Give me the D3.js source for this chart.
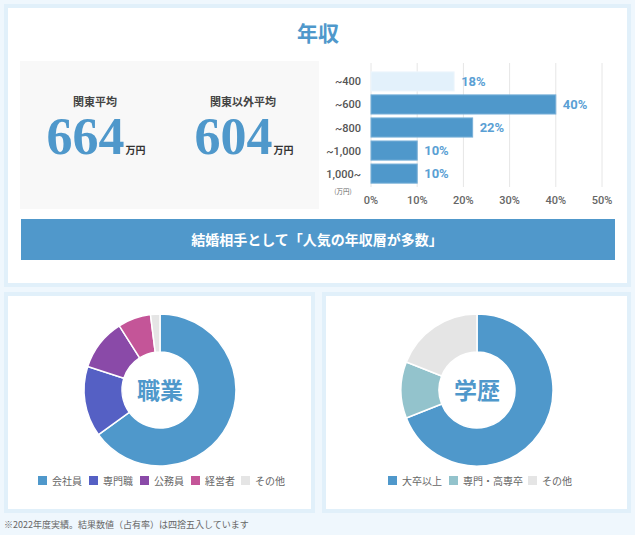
<!DOCTYPE html>
<html><head><meta charset="utf-8">
<script src="https://cdn.jsdelivr.net/npm/d3@7"></script>
<style>
html,body{margin:0;padding:0;background:#eff7fd;}
svg{display:block;font-family:"Noto Sans CJK JP","Noto Sans",sans-serif;}
</style></head>
<body><svg id="c" width="635" height="535"></svg>
<script>
// ---- data ----
const incomeCategories = ["~400", "~600", "~800", "~1,000", "1,000~"];
const incomeShares = [18, 40, 22, 10, 10];
const incomeTicks = [0, 10, 20, 30, 40, 50];
const avgLabels = ["関東平均", "関東以外平均"];
const avgValues = [664, 604];
const jobCategories = ["会社員", "専門職", "公務員", "経営者", "その他"];
const jobShares = [65, 15, 11, 7, 2];
const eduCategories = ["大卒以上", "専門・高専卒", "その他"];
const eduShares = [69, 12, 19];

const blue = "#4f98cb";
const svg = d3.select("#c");

// panels
function panel(x, y, w, h) {
  svg.append("rect").attr("x", x + 2).attr("y", y + 2).attr("width", w - 4).attr("height", h - 4)
    .attr("fill", "#fff").attr("stroke", "#e1f0fa").attr("stroke-width", 4);
}
panel(4, 4, 627, 283);
panel(4, 292, 311, 221);
panel(322, 292, 309, 221);

// title
svg.append("text").attr("x", 318).attr("y", 41).attr("text-anchor", "middle")
  .attr("font-size", 21).attr("font-weight", 700).attr("fill", blue).text("年収");

// averages box
svg.append("rect").attr("x", 20).attr("y", 61).attr("width", 299).attr("height", 148).attr("fill", "#f8f8f8");
const avgX = d3.scaleOrdinal().domain(avgLabels).range([95, 243]);
avgLabels.forEach((lab, i) => {
  const cx = avgX(lab);
  svg.append("text").attr("x", cx).attr("y", 106).attr("text-anchor", "middle")
    .attr("font-size", 11).attr("font-weight", 700).attr("fill", "#444").text(lab);
  const g = svg.append("text").attr("x", cx + 1).attr("y", 154).attr("text-anchor", "middle");
  g.append("tspan").attr("font-family", "'Liberation Serif',serif").attr("font-size", 52)
    .attr("font-weight", 700).attr("fill", blue).text(avgValues[i]);
  g.append("tspan").attr("font-size", 10).attr("font-weight", 700).attr("fill", "#333").attr("dx", 1).text("万円");
});

// bar chart
const x = d3.scaleLinear().domain([0, 50]).range([371, 602]);
const y = d3.scaleBand().domain(incomeCategories).range([70, 185]).paddingInner(0.17).paddingOuter(0.08);
svg.append("g").selectAll("line").data(incomeTicks).join("line")
  .attr("x1", d => x(d)).attr("x2", d => x(d)).attr("y1", 63).attr("y2", 187)
  .attr("stroke", "#e6e6e6").attr("stroke-width", 1);
svg.append("g").selectAll("rect").data(incomeShares).join("rect")
  .attr("x", x(0)).attr("y", (d, i) => y(incomeCategories[i]))
  .attr("width", d => x(d) - x(0)).attr("height", y.bandwidth())
  .attr("fill", (d, i) => i === 0 ? "#e3f1fb" : blue)
  .attr("stroke", (d, i) => i === 0 ? "#eef6fc" : "#78b0d8").attr("stroke-width", 1);
svg.append("g").selectAll("text").data(incomeShares).join("text")
  .attr("x", d => x(d) + 7).attr("y", (d, i) => y(incomeCategories[i]) + y.bandwidth() / 2 + 4.5)
  .attr("font-family", "Roboto,'Noto Sans',sans-serif")
  .attr("font-size", 13).attr("font-weight", 700).attr("fill", "#5aa0d4").text(d => d + "%");
svg.append("g").selectAll("text").data(incomeCategories).join("text")
  .attr("x", 361).attr("y", d => y(d) + y.bandwidth() / 2 + 4).attr("text-anchor", "end")
  .attr("font-family", "Roboto,'Noto Sans',sans-serif")
  .attr("font-size", 11).attr("font-weight", 500).attr("fill", "#555").text(d => d);
svg.append("g").selectAll("text").data(incomeTicks).join("text")
  .attr("x", d => x(d)).attr("y", 204).attr("text-anchor", "middle")
  .attr("font-family", "Roboto,'Noto Sans',sans-serif")
  .attr("font-size", 11).attr("font-weight", 500).attr("fill", "#666").text(d => d + "%");
svg.append("text").attr("x", 343).attr("y", 194).attr("text-anchor", "middle")
  .attr("font-size", 6.5).attr("fill", "#666").text("(万円)");

// banner
svg.append("rect").attr("x", 21).attr("y", 219).attr("width", 594).attr("height", 41).attr("fill", "#5098cb");
svg.append("text").attr("x", 317).attr("y", 245).attr("text-anchor", "middle")
  .attr("font-size", 14).attr("font-weight", 700).attr("fill", "#fff").text("結婚相手として「人気の年収層が多数」");

// donuts
function donut(cx, cy, cats, vals, colors, label, legendX) {
  const pie = d3.pie().sort(null).value(d => d)(vals);
  const arc = d3.arc().innerRadius(38).outerRadius(76);
  const g = svg.append("g").attr("transform", `translate(${cx},${cy})`);
  g.selectAll("path").data(pie).join("path").attr("d", arc)
    .attr("fill", (d, i) => colors[i]).attr("stroke", "#fff").attr("stroke-width", 1.5);
  g.append("text").attr("y", 9).attr("text-anchor", "middle").attr("font-size", 23)
    .attr("font-weight", 700).attr("fill", blue).text(label);
  const lg = svg.append("g");
  cats.forEach((c, i) => {
    lg.append("rect").attr("x", legendX[i]).attr("y", 476).attr("width", 9).attr("height", 9).attr("fill", colors[i]);
    lg.append("text").attr("x", legendX[i] + 14).attr("y", 484.5).attr("font-size", 10)
      .attr("fill", "#666").text(c);
  });
}
donut(160, 390, jobCategories, jobShares, [blue, "#5560c4", "#8a4aa8", "#c45598", "#e5e5e5"], "職業", [38, 89, 140, 191, 241]);
donut(477, 390, eduCategories, eduShares, [blue, "#93c3cc", "#e5e5e5"], "学歴", [388, 449, 528]);

// footnote
svg.append("text").attr("x", 4).attr("y", 528).attr("font-size", 9).attr("fill", "#666")
  .text("※2022年度実績。結果数値（占有率）は四捨五入しています");
</script></body></html>
